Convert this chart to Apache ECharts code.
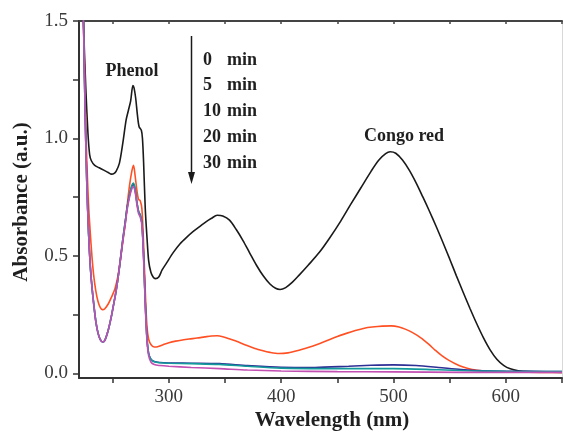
<!DOCTYPE html>
<html>
<head>
<meta charset="utf-8">
<script src="https://cdn.jsdelivr.net/npm/echarts@6/dist/echarts.min.js"></script>
<style>
  html, body { margin: 0; padding: 0; background: #fff; }
  #chart { width: 563px; height: 435px; }
</style>
</head>
<body>
<div id="chart"></div>
<script>
// UV-Vis absorbance spectra, [wavelength (nm), absorbance (a.u.)]
const spec0min = [
  [222, 2.0], [224, 1.5], [226, 1.22], [228, 1.02], [229.5, 0.93], [231, 0.905], [234, 0.885],
  [238, 0.875], [242, 0.865], [246, 0.855], [249, 0.848], [251, 0.85], [253, 0.86], [256, 0.895],
  [259, 0.98], [262, 1.08], [264, 1.12], [266, 1.16], [268, 1.225], [269, 1.215], [270.5, 1.17],
  [272, 1.1], [273.5, 1.05], [275.5, 1.035], [276.5, 1.0], [277.5, 0.9], [279, 0.7], [280.5, 0.58],
  [282, 0.48], [284, 0.43], [286, 0.41], [288, 0.403], [291, 0.41], [294, 0.44], [298, 0.47],
  [304, 0.515], [310, 0.552], [316, 0.58], [322, 0.605], [328, 0.627], [333, 0.645], [338, 0.66],
  [343, 0.673], [348, 0.67], [354, 0.652], [360, 0.612], [366, 0.565], [372, 0.512], [378, 0.46],
  [384, 0.415], [390, 0.38], [395, 0.362], [399, 0.357], [404, 0.365], [410, 0.388], [416, 0.418],
  [424, 0.46], [434, 0.515], [443, 0.575], [453, 0.648], [462, 0.72], [471, 0.79],
  [480, 0.86], [487, 0.908], [493, 0.935], [497, 0.943], [502, 0.937], [508, 0.908], [514, 0.865],
  [520, 0.812], [526, 0.752], [532, 0.69], [538, 0.625], [544, 0.557], [550, 0.487], [556, 0.415],
  [562, 0.345], [568, 0.277], [574, 0.212], [580, 0.152], [586, 0.1], [592, 0.06], [598, 0.034],
  [604, 0.019], [611, 0.011], [620, 0.007], [635, 0.005], [650, 0.004]
];
const spec5min = [
  [222, 2.0], [224, 1.5], [225.5, 1.15], [227, 0.9], [228.5, 0.72], [230, 0.6], [231.5, 0.5],
  [233, 0.42], [235, 0.35], [237, 0.305], [239, 0.28], [241, 0.271], [243, 0.275], [246, 0.295],
  [249, 0.325], [252, 0.36], [254.5, 0.41], [256.5, 0.47], [259, 0.56], [261, 0.63], [263, 0.72],
  [265, 0.8], [267, 0.86], [268.5, 0.886], [270, 0.84], [271.5, 0.78], [273, 0.74], [274.5, 0.735],
  [276, 0.7], [277.5, 0.55], [279, 0.35], [280.5, 0.2], [282, 0.145], [284, 0.123], [287, 0.112],
  [290, 0.113], [295, 0.122], [300, 0.13], [306, 0.137], [312, 0.142], [318, 0.146], [325, 0.15],
  [332, 0.155], [338, 0.159], [343, 0.16], [348, 0.156], [355, 0.145], [362, 0.133], [369, 0.119],
  [376, 0.107], [383, 0.097], [390, 0.089], [398, 0.084], [406, 0.087], [415, 0.097], [424, 0.11],
  [432, 0.123], [441, 0.14], [450, 0.157], [458, 0.17], [466, 0.182], [474, 0.192], [481, 0.197],
  [490, 0.201], [498, 0.202], [505, 0.197], [511, 0.187], [517, 0.173], [524, 0.152], [531, 0.125],
  [537, 0.099], [543, 0.075], [549, 0.056], [555, 0.041], [562, 0.027], [570, 0.016], [580, 0.01],
  [593, 0.006], [610, 0.005], [630, 0.004], [650, 0.004]
];
const spec10min = [
  [222, 2.0], [224, 1.5], [225.5, 1.1], [227, 0.8], [228.5, 0.6], [230, 0.46], [231.5, 0.37],
  [233, 0.3], [235, 0.22], [237, 0.17], [239, 0.143], [241, 0.133], [243, 0.14], [246, 0.183],
  [248.5, 0.235], [250.5, 0.285], [253, 0.35], [255, 0.415], [257, 0.49], [259, 0.57], [261, 0.64],
  [263, 0.71], [265, 0.76], [267, 0.795], [268.5, 0.805], [270, 0.78], [271.5, 0.73], [273, 0.69],
  [274.5, 0.675], [276, 0.64], [277.5, 0.5], [279, 0.3], [280.5, 0.15], [282, 0.085], [284, 0.06],
  [287, 0.05], [292, 0.046], [300, 0.044], [320, 0.043], [345, 0.041], [370, 0.033], [400, 0.026],
  [430, 0.025], [460, 0.03], [480, 0.034], [500, 0.036], [520, 0.033], [540, 0.025], [560, 0.016],
  [580, 0.011], [600, 0.009], [625, 0.008], [650, 0.007]
];
const spec20min = [
  [222, 2.0], [224, 1.5], [225.5, 1.1], [227, 0.8], [228.5, 0.6], [230, 0.46], [231.5, 0.37],
  [233, 0.3], [235, 0.22], [237, 0.17], [239, 0.143], [241, 0.133], [243, 0.14], [246, 0.183],
  [248.5, 0.235], [250.5, 0.285], [253, 0.35], [255, 0.415], [257, 0.49], [259, 0.57], [261, 0.64],
  [263, 0.71], [265, 0.76], [267, 0.8], [268.5, 0.81], [270, 0.785], [271.5, 0.73], [273, 0.69],
  [274.5, 0.673], [276, 0.64], [277.5, 0.5], [279, 0.3], [280.5, 0.15], [282, 0.085], [284, 0.06],
  [287, 0.049], [292, 0.045], [300, 0.043], [320, 0.041], [345, 0.038], [370, 0.03], [400, 0.022],
  [450, 0.02], [500, 0.02], [540, 0.015], [566, 0.011], [600, 0.008], [650, 0.007]
];
const spec30min = [
  [222, 2.0], [224, 1.5], [225.5, 1.1], [227, 0.8], [228.5, 0.6], [230, 0.46], [231.5, 0.37],
  [233, 0.3], [235, 0.22], [237, 0.17], [239, 0.143], [241, 0.133], [243, 0.14], [246, 0.183],
  [248.5, 0.235], [250.5, 0.285], [253, 0.35], [255, 0.415], [257, 0.49], [259, 0.565], [261, 0.63],
  [263, 0.7], [265, 0.75], [267, 0.785], [268.5, 0.794], [270, 0.77], [271.5, 0.72], [273, 0.68],
  [274.5, 0.665], [276, 0.63], [277.5, 0.49], [279, 0.29], [280.5, 0.14], [282, 0.075], [284, 0.048],
  [287, 0.037], [292, 0.033], [300, 0.03], [320, 0.025], [345, 0.02], [370, 0.014], [400, 0.01],
  [450, 0.007], [500, 0.006], [560, 0.004], [650, 0.004]
];

const seriesNames = ['0 min', '5 min', '10 min', '20 min', '30 min'];
const legendMinutes = ['0', '5', '10', '20', '30'];
const xLabelValues = [300, 400, 500, 600];
const xTickValues = [250, 300, 350, 400, 450, 500, 550, 600, 650];
const yLabelValues = [0, 0.5, 1.0, 1.5];
const yTickValues = [0, 0.25, 0.5, 0.75, 1.0, 1.25, 1.5];

const colors = ['#1a1a1a', '#ff5024', '#2e2f94', '#12999b', '#c24fb2'];
const serif = '"Liberation Serif", "Times New Roman", serif';
const textDark = '#1f1f1f';

const chart = echarts.init(document.getElementById('chart'), null, { renderer: 'canvas' });

const allSpectra = [spec0min, spec5min, spec10min, spec20min, spec30min];

// time labels beside the arrow: number column and "min" column
const legendTexts = [];
legendMinutes.forEach((m, i) => {
  const y = 60 + i * 25.8;
  legendTexts.push({
    type: 'text', x: 203, y: y,
    style: { text: m, font: 'bold 18px ' + serif, fill: textDark, verticalAlign: 'middle' }
  });
  legendTexts.push({
    type: 'text', x: 227, y: y,
    style: { text: 'min', font: 'bold 18px ' + serif, fill: textDark, verticalAlign: 'middle' }
  });
});

const option = {
  backgroundColor: '#fff',
  animation: false,
  grid: { left: 79, top: 21, right: 1, bottom: 57, containLabel: false },
  xAxis: [{
    type: 'value', min: 220, max: 650,
    axisLine: { show: true, onZero: false, lineStyle: { color: '#333', width: 2 } },
    axisTick: { show: true, inside: false, length: 5, customValues: xTickValues, lineStyle: { color: '#333', width: 1.5 } },
    axisLabel: { customValues: xLabelValues, margin: 10, fontFamily: serif, fontSize: 19, color: '#3a3a3a' },
    splitLine: { show: false }
  }, {
    type: 'value', min: 220, max: 650, position: 'top',
    axisLine: { show: true, onZero: false, lineStyle: { color: '#444', width: 2 } },
    axisTick: { show: true, inside: true, length: 3, customValues: xTickValues, lineStyle: { color: '#444', width: 1.5 } },
    axisLabel: { show: false },
    splitLine: { show: false }
  }],
  yAxis: [{
    type: 'value', min: -0.02, max: 1.5,
    axisLine: { show: true, onZero: false, lineStyle: { color: '#333', width: 2 } },
    axisTick: { show: true, inside: false, length: 6, customValues: yTickValues, lineStyle: { color: '#333', width: 1.5 } },
    axisLabel: {
      customValues: yLabelValues, margin: 11, fontFamily: serif, fontSize: 19, color: '#3a3a3a',
      formatter: v => v.toFixed(1)
    },
    splitLine: { show: false }
  }, {
    type: 'value', min: -0.02, max: 1.5, position: 'right',
    axisLine: { show: true, onZero: false, lineStyle: { color: '#d8d8d8', width: 1 } },
    axisTick: { show: false }, axisLabel: { show: false }, splitLine: { show: false }
  }],
  series: allSpectra.map((d, i) => ({
    name: seriesNames[i],
    type: 'line',
    data: d,
    showSymbol: false,
    smooth: 0.3,
    clip: true,
    z: 2 + i,
    lineStyle: { color: colors[i], width: 1.6 }
  })),
  graphic: [
    {
      type: 'text', x: 332, y: 421,
      style: { text: 'Wavelength (nm)', font: 'bold 21px ' + serif, fill: textDark, align: 'center', verticalAlign: 'middle' }
    },
    {
      type: 'text', x: 22, y: 202, rotation: Math.PI / 2,
      style: { text: 'Absorbance (a.u.)', font: 'bold 21px ' + serif, fill: textDark, align: 'center', verticalAlign: 'middle' }
    },
    {
      type: 'text', x: 132, y: 71,
      style: { text: 'Phenol', font: 'bold 18px ' + serif, fill: textDark, align: 'center', verticalAlign: 'middle' }
    },
    {
      type: 'text', x: 404, y: 136,
      style: { text: 'Congo red', font: 'bold 18px ' + serif, fill: textDark, align: 'center', verticalAlign: 'middle' }
    },
    {
      type: 'line', shape: { x1: 191.5, y1: 36, x2: 191.5, y2: 176 },
      style: { stroke: '#1a1a1a', lineWidth: 1.5 }
    },
    {
      type: 'polygon', shape: { points: [[188, 172], [195, 172], [191.5, 184]] },
      style: { fill: '#1a1a1a' }
    }
  ].concat(legendTexts)
};

chart.setOption(option);
</script>
</body>
</html>
